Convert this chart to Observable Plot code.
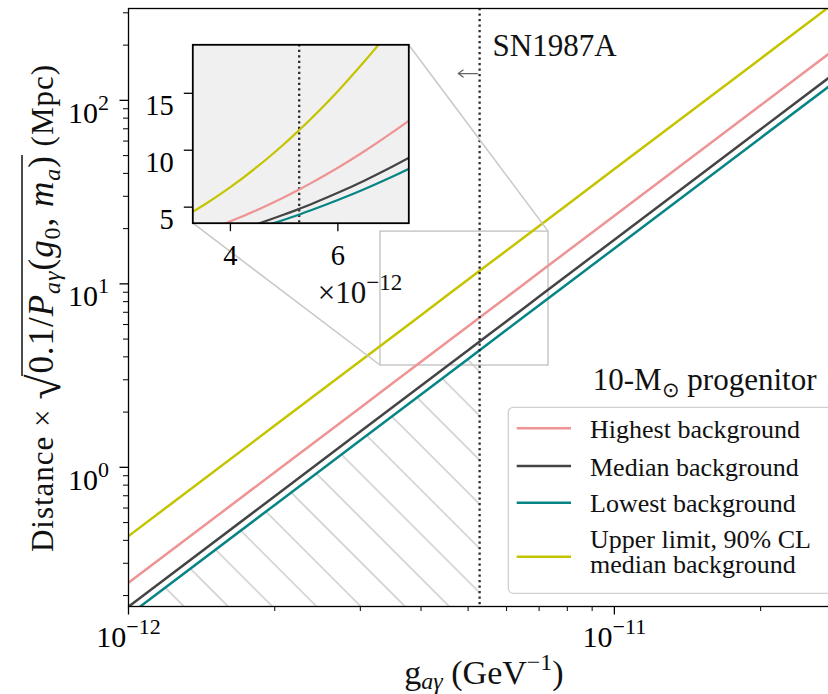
<!DOCTYPE html>
<html><head><meta charset="utf-8">
<script src="https://cdn.jsdelivr.net/npm/d3@7"></script>
<script src="https://cdn.jsdelivr.net/npm/@observablehq/plot@0.6"></script>
<style>
html,body{margin:0;padding:0;background:#fff;overflow:hidden;}
#wrap{position:relative;width:828px;height:694px;overflow:hidden;background:#fff;}
#wrap svg{position:absolute;left:0;top:0;max-width:none !important;width:840px;height:694px;}
#wrap svg text{font-family:"Liberation Serif",serif;}
</style></head><body><div id="wrap"></div>
<script>
// ---- data (coupling in GeV^-1, distances in Mpc) ----
const coupling    = [1e-12, 2e-12, 3e-12, 3.5e-12, 4e-12, 4.5e-12, 5e-12, 5.28e-12, 5.5e-12, 6e-12, 6.5e-12, 7e-12, 7.5e-12, 8e-12, 1e-11, 2e-11, 3e-11];
const highestBg   = [0.235, 0.94, 2.115, 2.88, 3.76, 4.76, 5.875, 6.55, 7.11, 8.46, 9.93, 11.52, 13.22, 15.04, 23.5, 94.0, 211.5];
const medianBg    = [0.174, 0.696, 1.566, 2.13, 2.784, 3.52, 4.35, 4.85, 5.26, 6.26, 7.35, 8.53, 9.79, 11.14, 17.4, 69.6, 156.6];
const lowestBg    = [0.156, 0.624, 1.404, 1.91, 2.496, 3.16, 3.90, 4.35, 4.72, 5.62, 6.59, 7.64, 8.78, 9.98, 15.6, 62.4, 140.4];
const upperLimit  = [0.422, 1.69, 3.80, 5.17, 6.75, 8.55, 10.55, 11.77, 12.77, 15.19, 17.83, 20.68, 23.74, 27.0, 42.2, 168.8, 379.8];
const seriesNames = ["Highest background", "Median background", "Lowest background", "Upper limit, 90% CL\nmedian background"];
const seriesColors = ["#ee9494", "#444444", "#078585", "#c4c400"];
const legendTitle = "10-M|⊙| progenitor";
const sn1987A = 5.28e-12;
const snLabel = "SN1987A";
const xLimits = [1e-12, 2.92e-11];
const yLimits = [0.1744, 316.7];
const xMajorTicks = [1e-12, 1e-11];
const xMinorTicks = [2e-12, 3e-12, 4e-12, 5e-12, 6e-12, 7e-12, 8e-12, 9e-12, 2e-11];
const yMajorTicks = [1, 10, 100];
const yMinorTicks = [0.2, 0.3, 0.4, 0.5, 0.6, 0.7, 0.8, 0.9, 2, 3, 4, 5, 6, 7, 8, 9, 20, 30, 40, 50, 60, 70, 80, 90, 200, 300];
const insetXLimits = [3.30e-12, 7.32e-12];
const insetYLimits = [3.59, 19.26];
const insetXTicks = [4e-12, 6e-12];
const insetYTicks = [5, 10, 15];
const insetOffsetLabel = "×10^-12";

// ---- build ----
const W = 840, H = 694;
const FONT = '"Liberation Serif", serif';
const rows = coupling.map((g, i) => ({g, high: highestBg[i], med: medianBg[i], low: lowestBg[i], upper: upperLimit[i]}));
const keys = ["high", "med", "low", "upper"];
const powFmt = d => "10^" + Math.round(Math.log10(d));
const dotted = {stroke: "#2b2b2b", strokeWidth: 2.3, strokeDasharray: "2.2,3.3"};

const main = Plot.plot({
  width: W, height: H, marginLeft: 128, marginRight: 0, marginTop: 8, marginBottom: 88,
  style: {fontFamily: FONT, fontSize: "30px", background: "transparent", overflow: "visible", maxWidth: "none"},
  x: {type: "log", domain: xLimits, axis: null},
  y: {type: "log", domain: yLimits, axis: null},
  marks: [
    Plot.areaY(rows.filter(d => d.g <= sn1987A), {x: "g", y1: () => yLimits[0], y2: "low", fill: "none", clip: true}),
    Plot.rect([0], {x1: insetXLimits[0], x2: insetXLimits[1], y1: insetYLimits[0], y2: insetYLimits[1], fill: "none", stroke: "#c8c8c8", strokeWidth: 1.5}),
    ...[3, 0, 1, 2].map(i => Plot.line(rows, {x: "g", y: keys[i], stroke: seriesColors[i], strokeWidth: 2.5, clip: true})),
    Plot.ruleX([sn1987A], dotted),
    Plot.arrow([0], {x1: 5.23e-12, x2: 4.77e-12, y1: 140, y2: 140, stroke: "#666", strokeWidth: 1.3, headLength: 7, headAngle: 70}),
    Plot.text([snLabel], {x: sn1987A, y: 174, dx: 13, text: d => d, textAnchor: "start", lineAnchor: "bottom", fontSize: 31, fill: "#111"}),
    Plot.frame({stroke: "#000", strokeWidth: 1.3}),
    Plot.axisX(xMajorTicks, {tickSize: 8.5, tickPadding: 11, tickFormat: powFmt, fontSize: 30, strokeWidth: 1.3, label: null}),
    Plot.axisX(xMinorTicks, {tickSize: 5, tickFormat: () => "", strokeWidth: 1, label: null}),
    Plot.axisY(yMajorTicks, {tickSize: 8.5, tickPadding: 11, tickFormat: powFmt, fontSize: 30, strokeWidth: 1.3, label: null}),
    Plot.axisY(yMinorTicks, {tickSize: 5, tickFormat: () => "", strokeWidth: 1, label: null})
  ]
});

const inset = Plot.plot({
  width: W, height: H, marginLeft: 192.3, marginRight: W - 408.3, marginTop: 44.3, marginBottom: H - 222.7,
  style: {fontFamily: FONT, fontSize: "28px", background: "transparent", overflow: "visible", maxWidth: "none"},
  x: {domain: insetXLimits, axis: null},
  y: {domain: insetYLimits, axis: null},
  marks: [
    Plot.frame({fill: "#f0f0f0"}),
    Plot.ruleX([sn1987A], dotted),
    ...[3, 0, 1, 2].map(i => Plot.line(rows, {x: "g", y: keys[i], stroke: seriesColors[i], strokeWidth: 2.2, curve: "catmull-rom", clip: true})),
    Plot.frame({stroke: "#000", strokeWidth: 1.8}),
    Plot.axisX(insetXTicks, {tickSize: 8.5, tickPadding: 13, tickFormat: d => String(Math.round(d / 1e-12)), fontSize: 28.5, strokeWidth: 1.3, label: null}),
    Plot.axisY(insetYTicks, {tickSize: 8.5, tickPadding: 10.5, fontSize: 28.5, strokeWidth: 1.3, label: null})
  ]
});

const wrap = document.getElementById("wrap");
wrap.appendChild(main);
wrap.appendChild(inset);

const ms = d3.select(main), is = d3.select(inset);

// hatch pattern
const defs = ms.insert("defs", ":first-child");
const pat = defs.append("pattern").attr("id", "hatch").attr("patternUnits", "userSpaceOnUse")
  .attr("width", 31.26).attr("height", 31.26).attr("patternTransform", "rotate(-45)");
pat.append("line").attr("x1", 13.9).attr("x2", 13.9).attr("y1", -5).attr("y2", 40)
  .attr("stroke", "#c9c9c9").attr("stroke-width", 1.4);
ms.selectAll('g[aria-label="area"]').attr("fill", "url(#hatch)");
ms.selectAll('g[aria-label="area"] path').attr("fill", "url(#hatch)");

// superscript tick labels
function supify(svgSel, supSize, shift) {
  svgSel.selectAll("text").each(function () {
    const s = this.textContent;
    const m = s.match(/^(.*?10)\^(.+)$/);
    if (m) {
      const t = d3.select(this);
      t.text("");
      t.append("tspan").text(m[1]);
      t.append("tspan").text(m[2].replace("-", "−")).attr("font-size", supSize).attr("baseline-shift", shift);
    }
  });
}
supify(ms, 22, 13);
ms.selectAll('g[aria-label="y-axis tick label"] text').attr("dy", "0.42em");
is.selectAll('g[aria-label="y-axis tick label"] text').attr("dy", "0.43em");

// helper for rich text
function rich(textSel, parts) {
  return parts.map(p => {
    const ts = textSel.append("tspan").text(p.t);
    if (p.size) ts.attr("font-size", p.size);
    if (p.shift) ts.attr("baseline-shift", p.shift);
    if (p.italic) ts.attr("font-style", "italic");
    return ts;
  });
}

// inset offset label
const mx = main.scale("x"), my = main.scale("y");
const ix = inset.scale("x"), iy = inset.scale("y");
const off = is.append("text").attr("x", ix.apply(insetXLimits[1]) - 6).attr("y", iy.apply(insetYLimits[0]) + 80)
  .attr("text-anchor", "end").attr("font-size", 31).attr("fill", "#111");
const offParts = insetOffsetLabel.split("^");
rich(off, [{t: offParts[0]}, {t: offParts[1].replace("-", "−"), size: 23, shift: 13}]);

// connectors (main svg, under inset)
const conn = ms.insert("g", 'g[aria-label="frame"]').attr("stroke", "#c8c8c8").attr("stroke-width", 1.5);
[[0, 0], [1, 1]].forEach(([a, b]) => {
  conn.append("line")
    .attr("x1", ix.apply(insetXLimits[a])).attr("y1", iy.apply(insetYLimits[b]))
    .attr("x2", mx.apply(insetXLimits[a])).attr("y2", my.apply(insetYLimits[b]));
});

// x label
const xl = ms.append("text").attr("x", 484).attr("y", 684).attr("text-anchor", "middle").attr("font-size", 34).attr("fill", "#111");
rich(xl, [{t: "g"}, {t: "aγ", italic: true, size: 24, shift: -5}, {t: " (GeV"}, {t: "−1", size: 24, shift: 14}, {t: ")"}]);

// y label
const yg = ms.append("g").attr("transform", "translate(53,552) rotate(-90)");
const yt = yg.append("text").attr("text-anchor", "start").attr("font-size", 31).attr("fill", "#111")
  .attr("textLength", 487).attr("lengthAdjust", "spacing");
const yParts = [
  {t: "Distance × "},
  {t: "√", size: 46, shift: -7},
  {t: "0.1/", size: 35}, {t: "P", italic: true, size: 35}, {t: "aγ", italic: true, size: 24, shift: -7},
  {t: "(", size: 35}, {t: "g", italic: true, size: 35}, {t: "0", size: 24, shift: -7}, {t: ", ", size: 35}, {t: "m", italic: true, size: 35}, {t: "a", italic: true, size: 24, shift: -7}, {t: ")", size: 35},
  {t: " (Mpc)"}
];
rich(yt, yParts);
{
  const node = yt.node();
  let idx = 0; const starts = [];
  yParts.forEach(p => { starts.push(idx); idx += p.t.length; });
  const sqIdx = starts[1];
  const lastIdx = starts[11];
  const x0 = node.getEndPositionOfChar(sqIdx).x - 1.5;
  const x1 = node.getEndPositionOfChar(lastIdx).x + 1;
  yg.append("line").attr("x1", x0).attr("x2", x1).attr("y1", -31).attr("y2", -31).attr("stroke", "#111").attr("stroke-width", 1.5);
}

// legend
const lg = ms.append("g").attr("text-anchor", "start");
lg.append("rect").attr("x", 508.3).attr("y", 407.3).attr("width", 340).attr("height", 186).attr("rx", 5)
  .attr("fill", "#fff").attr("fill-opacity", 0.85).attr("stroke", "#d0d0d0").attr("stroke-width", 1.3);
const tt = lg.append("text").attr("x", 592.7).attr("y", 390).attr("text-anchor", "start").attr("font-size", 31).attr("fill", "#111");
const tParts = legendTitle.split("|");
rich(tt, [{t: tParts[0]}, {t: tParts[1], size: 21, shift: -7}, {t: tParts[2]}]);
const lineYs = [428.3, 466, 502.7, 556.7];
seriesNames.forEach((name, i) => {
  lg.append("line").attr("x1", 516.7).attr("x2", 571).attr("y1", lineYs[i]).attr("y2", lineYs[i])
    .attr("stroke", seriesColors[i]).attr("stroke-width", 2.5);
  const lines = name.split("\n");
  const base = lines.length > 1 ? lineYs[i] - 8.4 : lineYs[i] + 9.5;
  const txt = lg.append("text").attr("x", 590).attr("y", base).attr("text-anchor", "start").attr("font-size", 26).attr("fill", "#111");
  lines.forEach((ln, j) => {
    txt.append("tspan").attr("x", 590).attr("dy", j === 0 ? 0 : 25).text(ln);
  });
});
</script></body></html>
